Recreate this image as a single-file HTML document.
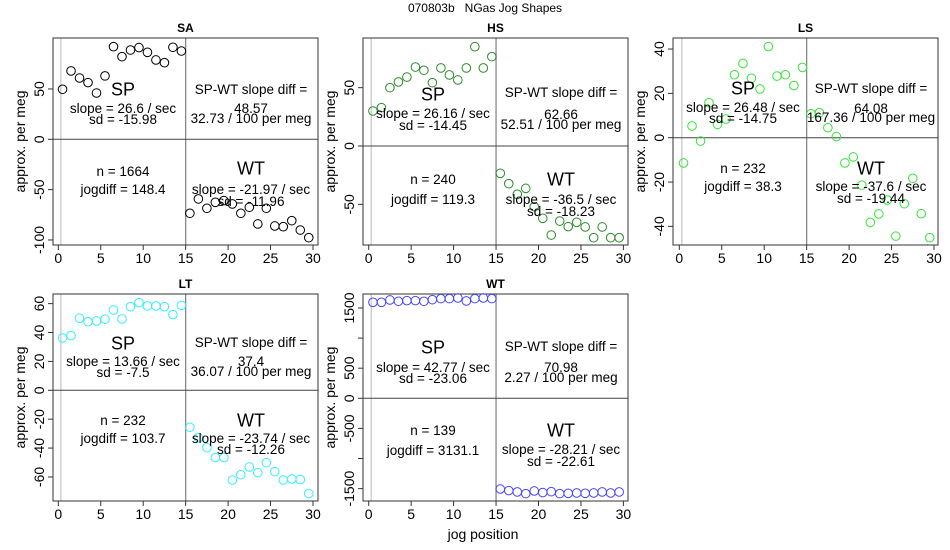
<!DOCTYPE html>
<html><head><meta charset="utf-8"><style>
body{margin:0;background:#fff}
svg{display:block;font-family:"Liberation Sans",sans-serif}
</style></head><body>
<svg id="chart" width="950" height="550" xmlns="http://www.w3.org/2000/svg">
<text x="485" y="12" font-size="12" text-anchor="middle">070803b&#160;&#160;&#160;NGas Jog Shapes</text>
<text x="483" y="539" font-size="14" text-anchor="middle">jog position</text>
</svg>
<script>
const jogX = [0.5,1.5,2.5,3.5,4.5,5.5,6.5,7.5,8.5,9.5,10.5,11.5,12.5,13.5,14.5,15.5,16.5,17.5,18.5,19.5,20.5,21.5,22.5,23.5,24.5,25.5,26.5,27.5,28.5,29.5];
const saValues = [49.7,67.9,60.9,56.3,46.0,63.0,92.0,82.1,88.7,91.1,86.4,78.8,76.1,91.4,87.7,-73.5,-59.2,-68.5,-62.6,-60.9,-64.2,-73.5,-67.5,-84.1,-68.5,-86.1,-86.8,-80.8,-90.1,-97.7];
const hsValues = [30.0,32.9,50.0,54.9,59.1,67.7,64.9,54.3,66.9,60.9,56.6,66.9,85.1,66.9,76.6,-23.4,-32.3,-41.4,-36.3,-52.0,-62.0,-76.3,-64.3,-69.1,-65.4,-69.4,-78.6,-69.4,-78.6,-78.6];
const lsValues = [-11.4,5.3,-1.5,15.8,6.0,8.4,28.4,33.5,26.8,22.0,41.1,27.8,28.4,23.5,31.7,10.8,11.3,4.5,0.5,-11.4,-8.7,-21.4,-38.2,-34.4,-28.1,-44.4,-29.8,-18.3,-34.3,-45.1];
const ltValues = [36.3,37.9,49.9,47.5,48.0,49.2,55.6,49.4,57.9,60.7,58.4,58.4,57.9,52.4,58.8,-25.6,-32.8,-39.7,-46.6,-46.6,-62.1,-58.4,-53.1,-57.0,-50.1,-56.3,-62.1,-61.4,-61.8,-71.5];
const wtValues = [1594,1594,1633,1611,1622,1622,1611,1638,1655,1655,1666,1616,1655,1666,1655,-1506,-1533,-1555,-1583,-1539,-1566,-1550,-1583,-1578,-1572,-1578,-1572,-1555,-1572,-1555];
const xTicks = [0,5,10,15,20,25,30];
const saTicks = [-100,-50,0,50];
const hsTicks = [-50,0,50];
const lsTicks = [-40,-20,0,20,40];
const ltTicks = [-60,-40,-20,0,20,40,60];
const wtTicks = [-1500,-1000,-500,0,500,1000,1500];
const wtTickLabels = ["-1500","","-500","0","500","","1500"];
const saText = ["26.6","-15.98","48.57","32.73","1664","148.4","-21.97","-11.96"];
const hsText = ["26.16","-14.45","62.66","52.51","240","119.3","-36.5","-18.23"];
const lsText = ["26.48","-14.75","64.08","167.36","232","38.3","-37.6","-19.44"];
const ltText = ["13.66","-7.5","37.4","36.07","232","103.7","-23.74","-12.26"];
const wtText = ["42.77","-23.06","70.98","2.27","139","3131.1","-28.21","-22.61"];

const NS="http://www.w3.org/2000/svg";
const svg=document.getElementById('chart');
function mk(tag,attrs,parent,txt){const e=document.createElementNS(NS,tag);for(const k in attrs)e.setAttribute(k,attrs[k]);if(txt!==undefined)e.textContent=txt;(parent||svg).appendChild(e);return e;}

const panels=[
 {id:'sa',title:'SA',vals:saValues,ticks:saTicks,labels:null,txt:saText,col:'#000',bx:53,by:38,x0:58.3,y0:139.3,ys:1.0067,rel:[51,70,81,51,70,80,133,151,130,151,163]},
 {id:'hs',title:'HS',vals:hsValues,ticks:hsTicks,labels:null,txt:hsText,col:'#2a8c2a',bx:363,by:38,x0:368.7,y0:146,ys:1.1667,rel:[56,75,87,54,76,86,141,161,141,161,173]},
 {id:'ls',title:'LS',vals:lsValues,ticks:lsTicks,labels:null,txt:lsText,col:'#33e633',bx:673,by:38,x0:679.3,y0:137.7,ys:2.2167,rel:[50,69,80,50,70,79,130,148,130,148,160]},
 {id:'lt',title:'LT',vals:ltValues,ticks:ltTicks,labels:null,txt:ltText,col:'#33eeff',bx:53,by:294,x0:58.3,y0:390.3,ys:1.4444,rel:[49,67,78,48,67,77,126,144,126,144,155]},
 {id:'wt',title:'WT',vals:wtValues,ticks:wtTicks,labels:wtTickLabels,txt:wtText,col:'#4444ff',bx:363,by:294,x0:368.7,y0:398.3,ys:0.06022,rel:[53,73,84,52,73,83,136,156,136,155,167]}
];
const BW=265,BH=207,XS=8.49;
panels.forEach(p=>{
 const g=mk('g',{});
 
 
 const xAt=v=>p.x0+v*XS, yAt=v=>p.y0-v*p.ys;
 const t=mk('text',{x:p.bx+BW/2,y:p.by-6,'font-size':12,'font-weight':'bold','text-anchor':'middle'},g,p.title);
 
 
 mk('line',{x1:xAt(0.3),x2:xAt(0.3),y1:p.by,y2:p.by+BH,stroke:'#d0d0d0','stroke-width':1.5},g);
 mk('line',{x1:xAt(15),x2:xAt(15),y1:p.by,y2:p.by+BH,stroke:'#888','stroke-width':1.3},g);
 mk('line',{x1:p.bx,x2:p.bx+BW,y1:yAt(0),y2:yAt(0),stroke:'#444','stroke-width':1},g);
 const box=mk('rect',{x:p.bx,y:p.by,width:BW,height:BH,fill:'none',stroke:'#333','stroke-width':1},g);
 
 
 xTicks.forEach(v=>{
  mk('line',{x1:xAt(v),x2:xAt(v),y1:p.by+BH,y2:p.by+BH+5,stroke:'#333'},g);
  const l=mk('text',{x:xAt(v),y:p.by+BH+18,'font-size':14,'text-anchor':'middle'},g,String(v));
  
  
 });
 p.ticks.forEach((v,i)=>{
  const y=yAt(v);
  mk('line',{x1:p.bx,x2:p.bx-5,y1:y,y2:y,stroke:'#333'},g);
  const lab=p.labels?p.labels[i]:String(v);
  if(lab){const l=mk('text',{x:p.bx-9,y:y,'font-size':14,'text-anchor':'middle',transform:`rotate(-90 ${p.bx-9} ${y})`},g,lab);
  
  }
 });
 const yl=mk('text',{x:p.bx-28,y:p.by+BH/2,'font-size':14,'text-anchor':'middle',transform:`rotate(-90 ${p.bx-28} ${p.by+BH/2})`},g,'approx. per meg');
 
 
 p.vals.forEach((v,i)=>{
  const c=mk('circle',{cx:xAt(jogX[i]),cy:yAt(v),r:4.3,fill:'none',stroke:p.col,'stroke-width':1},g);
  
  
 });
 const L=p.bx+70, R=p.bx+198, r=p.rel, by=p.by, T=p.txt;
 const lines=[
  [L,r[0],'SP',18],[L,r[1],'slope = '+T[0]+' / sec',13.5],[L,r[2],'sd = '+T[1],13.5],
  [R,r[3],'SP-WT slope diff =',13.5],[R,r[4],T[2],13.5],[R,r[5],T[3]+' / 100 per meg',13.5],
  [L,r[6],'n = '+T[4],13.5],[L,r[7],'jogdiff = '+T[5],13.5],
  [R,r[8],'WT',18],[R,r[9],'slope = '+T[6]+' / sec',13.5],[R,r[10],'sd = '+T[7],13.5]];
 lines.forEach(a=>{
  const e=mk('text',{x:a[0],y:by+a[1]+(a[3]>14?6.5:5),'font-size':a[3],'text-anchor':'middle'},g,a[2]);
  
  
 });
});
</script>
</body></html>
